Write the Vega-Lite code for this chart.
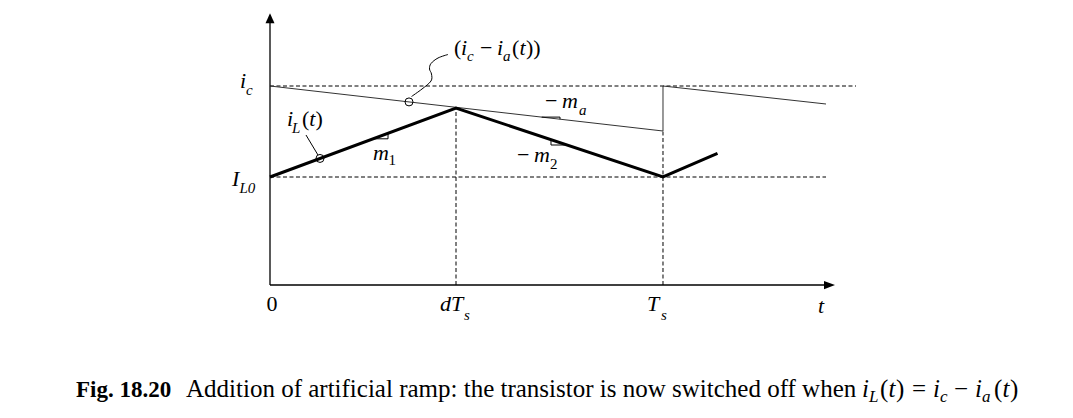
{
 "$schema": "https://vega.github.io/schema/vega-lite/v6.json",
 "width": 1073, "height": 418,
 "autosize": {"type": "fit", "contains": "padding"},
 "padding": 0,
 "background": "white",
 "config": {"view": {"stroke": null}},
 "datasets": {
  "dashed": [
   {"id": "ic", "k": 0, "t": 0, "i": 1.99}, {"id": "ic", "k": 1, "t": 1.4911, "i": 1.99},
   {"id": "il0", "k": 0, "t": 0, "i": 1.08}, {"id": "il0", "k": 1, "t": 1.4148, "i": 1.08},
   {"id": "dts", "k": 0, "t": 0.4733, "i": 0}, {"id": "dts", "k": 1, "t": 0.4733, "i": 1.77},
   {"id": "ts", "k": 0, "t": 1, "i": 0}, {"id": "ts", "k": 1, "t": 1, "i": 1.54}
  ],
  "axes": [
   {"id": "y", "k": 0, "t": 0, "i": 0}, {"id": "y", "k": 1, "t": 0, "i": 2.63},
   {"id": "x", "k": 0, "t": 0, "i": 0}, {"id": "x", "k": 1, "t": 1.4148, "i": 0}
  ],
  "ramp": [
   {"k": 0, "t": 0, "i": 1.99}, {"k": 1, "t": 1, "i": 1.54}, {"k": 2, "t": 1, "i": 1.99}, {"k": 3, "t": 1.4148, "i": 1.81}
  ],
  "current": [
   {"k": 0, "t": 0, "i": 1.08}, {"k": 1, "t": 0.4733, "i": 1.77}, {"k": 2, "t": 1, "i": 1.08}, {"k": 3, "t": 1.1387, "i": 1.317}
  ],
  "ticks": [
   {"id": "m1", "k": 0, "t": 0.2621, "i": 1.462}, {"id": "m1", "k": 1, "t": 0.3003, "i": 1.462}, {"id": "m1", "k": 2, "t": 0.3003, "i": 1.518},
   {"id": "ma", "k": 0, "t": 0.6913, "i": 1.679}, {"id": "ma", "k": 1, "t": 0.7379, "i": 1.679}, {"id": "ma", "k": 2, "t": 0.7379, "i": 1.658},
   {"id": "m2", "k": 0, "t": 0.715, "i": 1.4534}, {"id": "m2", "k": 1, "t": 0.715, "i": 1.40}, {"id": "m2", "k": 2, "t": 0.7557, "i": 1.40},
   {"id": "lead", "k": 0, "t": 0.1221, "i": 1.30}, {"id": "lead", "k": 1, "t": 0.0916, "i": 1.50}
  ],
  "curve": [
   {"k": 0, "t": 0.3601, "i": 1.885}, {"k": 1, "t": 0.3868, "i": 1.96}, {"k": 2, "t": 0.4097, "i": 2.04},
   {"k": 3, "t": 0.4109, "i": 2.11}, {"k": 4, "t": 0.4059, "i": 2.16}, {"k": 5, "t": 0.4097, "i": 2.215},
   {"k": 6, "t": 0.4275, "i": 2.27}, {"k": 7, "t": 0.4529, "i": 2.305}
  ],
  "circles": [{"t": 0.1272, "i": 1.2655}, {"t": 0.3537, "i": 1.8308}],
  "arrowUp": [{"t": 0, "i": 2.667}],
  "arrowRight": [{"t": 1.4237, "i": 0}],
  "itMain": [
   {"s": "i", "t": -0.0763, "i": 1.97},
   {"s": "I", "t": -0.0967, "i": 0.99},
   {"s": "i", "t": 0.0433, "i": 1.59},
   {"s": "t", "t": 0.1, "i": 1.59},
   {"s": "m", "t": 0.2621, "i": 1.25},
   {"s": "m", "t": 0.743, "i": 1.77},
   {"s": "m", "t": 0.6718, "i": 1.23},
   {"s": "i", "t": 0.486, "i": 2.30},
   {"s": "i", "t": 0.5776, "i": 2.30},
   {"s": "t", "t": 0.6349, "i": 2.30},
   {"s": "dT", "t": 0.4326, "i": -0.26},
   {"s": "T", "t": 0.9593, "i": -0.26},
   {"s": "t", "t": 1.3944, "i": -0.28}
  ],
  "itSub": [
   {"s": "c", "t": -0.0611, "i": 1.90},
   {"s": "L0", "t": -0.0776, "i": 0.92},
   {"s": "L", "t": 0.056, "i": 1.52},
   {"s": "a", "t": 0.7863, "i": 1.70},
   {"s": "c", "t": 0.5013, "i": 2.24},
   {"s": "a", "t": 0.5929, "i": 2.24},
   {"s": "s", "t": 0.4936, "i": -0.35},
   {"s": "s", "t": 0.9949, "i": -0.35}
  ],
  "upMain": [
   {"s": "0", "t": -0.0089, "i": -0.26},
   {"s": "(", "t": 0.0814, "i": 1.59},
   {"s": ")", "t": 0.1158, "i": 1.59},
   {"s": "−", "t": 0.6997, "i": 1.77},
   {"s": "−", "t": 0.6285, "i": 1.23},
   {"s": "(", "t": 0.4682, "i": 2.30},
   {"s": "−", "t": 0.5344, "i": 2.30},
   {"s": "(", "t": 0.6158, "i": 2.30},
   {"s": "))", "t": 0.6514, "i": 2.30}
  ],
  "upSub": [
   {"s": "1", "t": 0.3015, "i": 1.20},
   {"s": "2", "t": 0.7125, "i": 1.16}
  ],
  "capBold": [{"s": "Fig. 18.20", "t": -0.4936, "i": -1.12}],
  "capText": [{"s": "Addition of artificial ramp: the transistor is now switched off when", "t": -0.2137, "i": -1.12}],
  "capIt": [
   {"s": "i", "t": 1.5064, "i": -1.12}, {"s": "t", "t": 1.5738, "i": -1.12},
   {"s": "i", "t": 1.687, "i": -1.12}, {"s": "i", "t": 1.7939, "i": -1.12}, {"s": "t", "t": 1.8639, "i": -1.12}
  ],
  "capUp": [
   {"s": "(", "t": 1.5522, "i": -1.12}, {"s": ")", "t": 1.5929, "i": -1.12}, {"s": "=", "t": 1.6336, "i": -1.12},
   {"s": "−", "t": 1.7405, "i": -1.12}, {"s": "(", "t": 1.8422, "i": -1.12}, {"s": ")", "t": 1.883, "i": -1.12}
  ],
  "capSub": [
   {"s": "L", "t": 1.5242, "i": -1.17}, {"s": "c", "t": 1.7048, "i": -1.17}, {"s": "a", "t": 1.8117, "i": -1.17}
  ]
 },
 "encoding": {
  "x": {"field": "t", "type": "quantitative", "scale": {"domain": [-0.68702, 2.04326], "nice": false, "zero": false}, "axis": null},
  "y": {"field": "i", "type": "quantitative", "scale": {"domain": [-1.33, 2.85], "nice": false, "zero": false}, "axis": null}
 },
 "layer": [
  {"data": {"name": "dashed"}, "mark": {"type": "line", "color": "black", "strokeWidth": 1, "strokeDash": [4, 2.5]},
   "encoding": {"detail": {"field": "id"}, "order": {"field": "k"}}},
  {"data": {"name": "axes"}, "mark": {"type": "line", "color": "black", "strokeWidth": 1.3},
   "encoding": {"detail": {"field": "id"}, "order": {"field": "k"}}},
  {"data": {"name": "ramp"}, "mark": {"type": "line", "color": "#333333", "strokeWidth": 1},
   "encoding": {"order": {"field": "k"}}},
  {"data": {"name": "current"}, "mark": {"type": "line", "color": "black", "strokeWidth": 3, "strokeJoin": "miter"},
   "encoding": {"order": {"field": "k"}}},
  {"data": {"name": "ticks"}, "mark": {"type": "line", "color": "black", "strokeWidth": 1},
   "encoding": {"detail": {"field": "id"}, "order": {"field": "k"}}},
  {"data": {"name": "curve"}, "mark": {"type": "line", "color": "black", "strokeWidth": 1, "interpolate": "cardinal"},
   "encoding": {"order": {"field": "k"}}},
  {"data": {"name": "circles"}, "mark": {"type": "point", "shape": "circle", "size": 64, "filled": false, "color": "black", "strokeWidth": 1, "opacity": 1}},
  {"data": {"name": "arrowUp"}, "mark": {"type": "point", "shape": "M0,-1L0.9,1L-0.9,1Z", "size": 100, "filled": true, "color": "black", "opacity": 1}},
  {"data": {"name": "arrowRight"}, "mark": {"type": "point", "shape": "M1,0L-1,0.75L-1,-0.75Z", "size": 121, "filled": true, "color": "black", "opacity": 1}},
  {"data": {"name": "itMain"}, "mark": {"type": "text", "font": "Liberation Serif", "fontStyle": "italic", "fontSize": 22, "align": "left", "baseline": "alphabetic", "color": "black"},
   "encoding": {"text": {"field": "s"}}},
  {"data": {"name": "itSub"}, "mark": {"type": "text", "font": "Liberation Serif", "fontStyle": "italic", "fontSize": 15, "align": "left", "baseline": "alphabetic", "color": "black"},
   "encoding": {"text": {"field": "s"}}},
  {"data": {"name": "upMain"}, "mark": {"type": "text", "font": "Liberation Serif", "fontSize": 22, "align": "left", "baseline": "alphabetic", "color": "black"},
   "encoding": {"text": {"field": "s"}}},
  {"data": {"name": "upSub"}, "mark": {"type": "text", "font": "Liberation Serif", "fontSize": 15, "align": "left", "baseline": "alphabetic", "color": "black"},
   "encoding": {"text": {"field": "s"}}},
  {"data": {"name": "capBold"}, "mark": {"type": "text", "font": "Liberation Serif", "fontWeight": "bold", "fontSize": 23, "align": "left", "baseline": "alphabetic", "color": "black"},
   "encoding": {"text": {"field": "s"}}},
  {"data": {"name": "capText"}, "mark": {"type": "text", "font": "Liberation Serif", "fontSize": 25, "align": "left", "baseline": "alphabetic", "color": "black"},
   "encoding": {"text": {"field": "s"}}},
  {"data": {"name": "capIt"}, "mark": {"type": "text", "font": "Liberation Serif", "fontStyle": "italic", "fontSize": 25, "align": "left", "baseline": "alphabetic", "color": "black"},
   "encoding": {"text": {"field": "s"}}},
  {"data": {"name": "capUp"}, "mark": {"type": "text", "font": "Liberation Serif", "fontSize": 25, "align": "left", "baseline": "alphabetic", "color": "black"},
   "encoding": {"text": {"field": "s"}}},
  {"data": {"name": "capSub"}, "mark": {"type": "text", "font": "Liberation Serif", "fontStyle": "italic", "fontSize": 17, "align": "left", "baseline": "alphabetic", "color": "black"},
   "encoding": {"text": {"field": "s"}}}
 ]
}
